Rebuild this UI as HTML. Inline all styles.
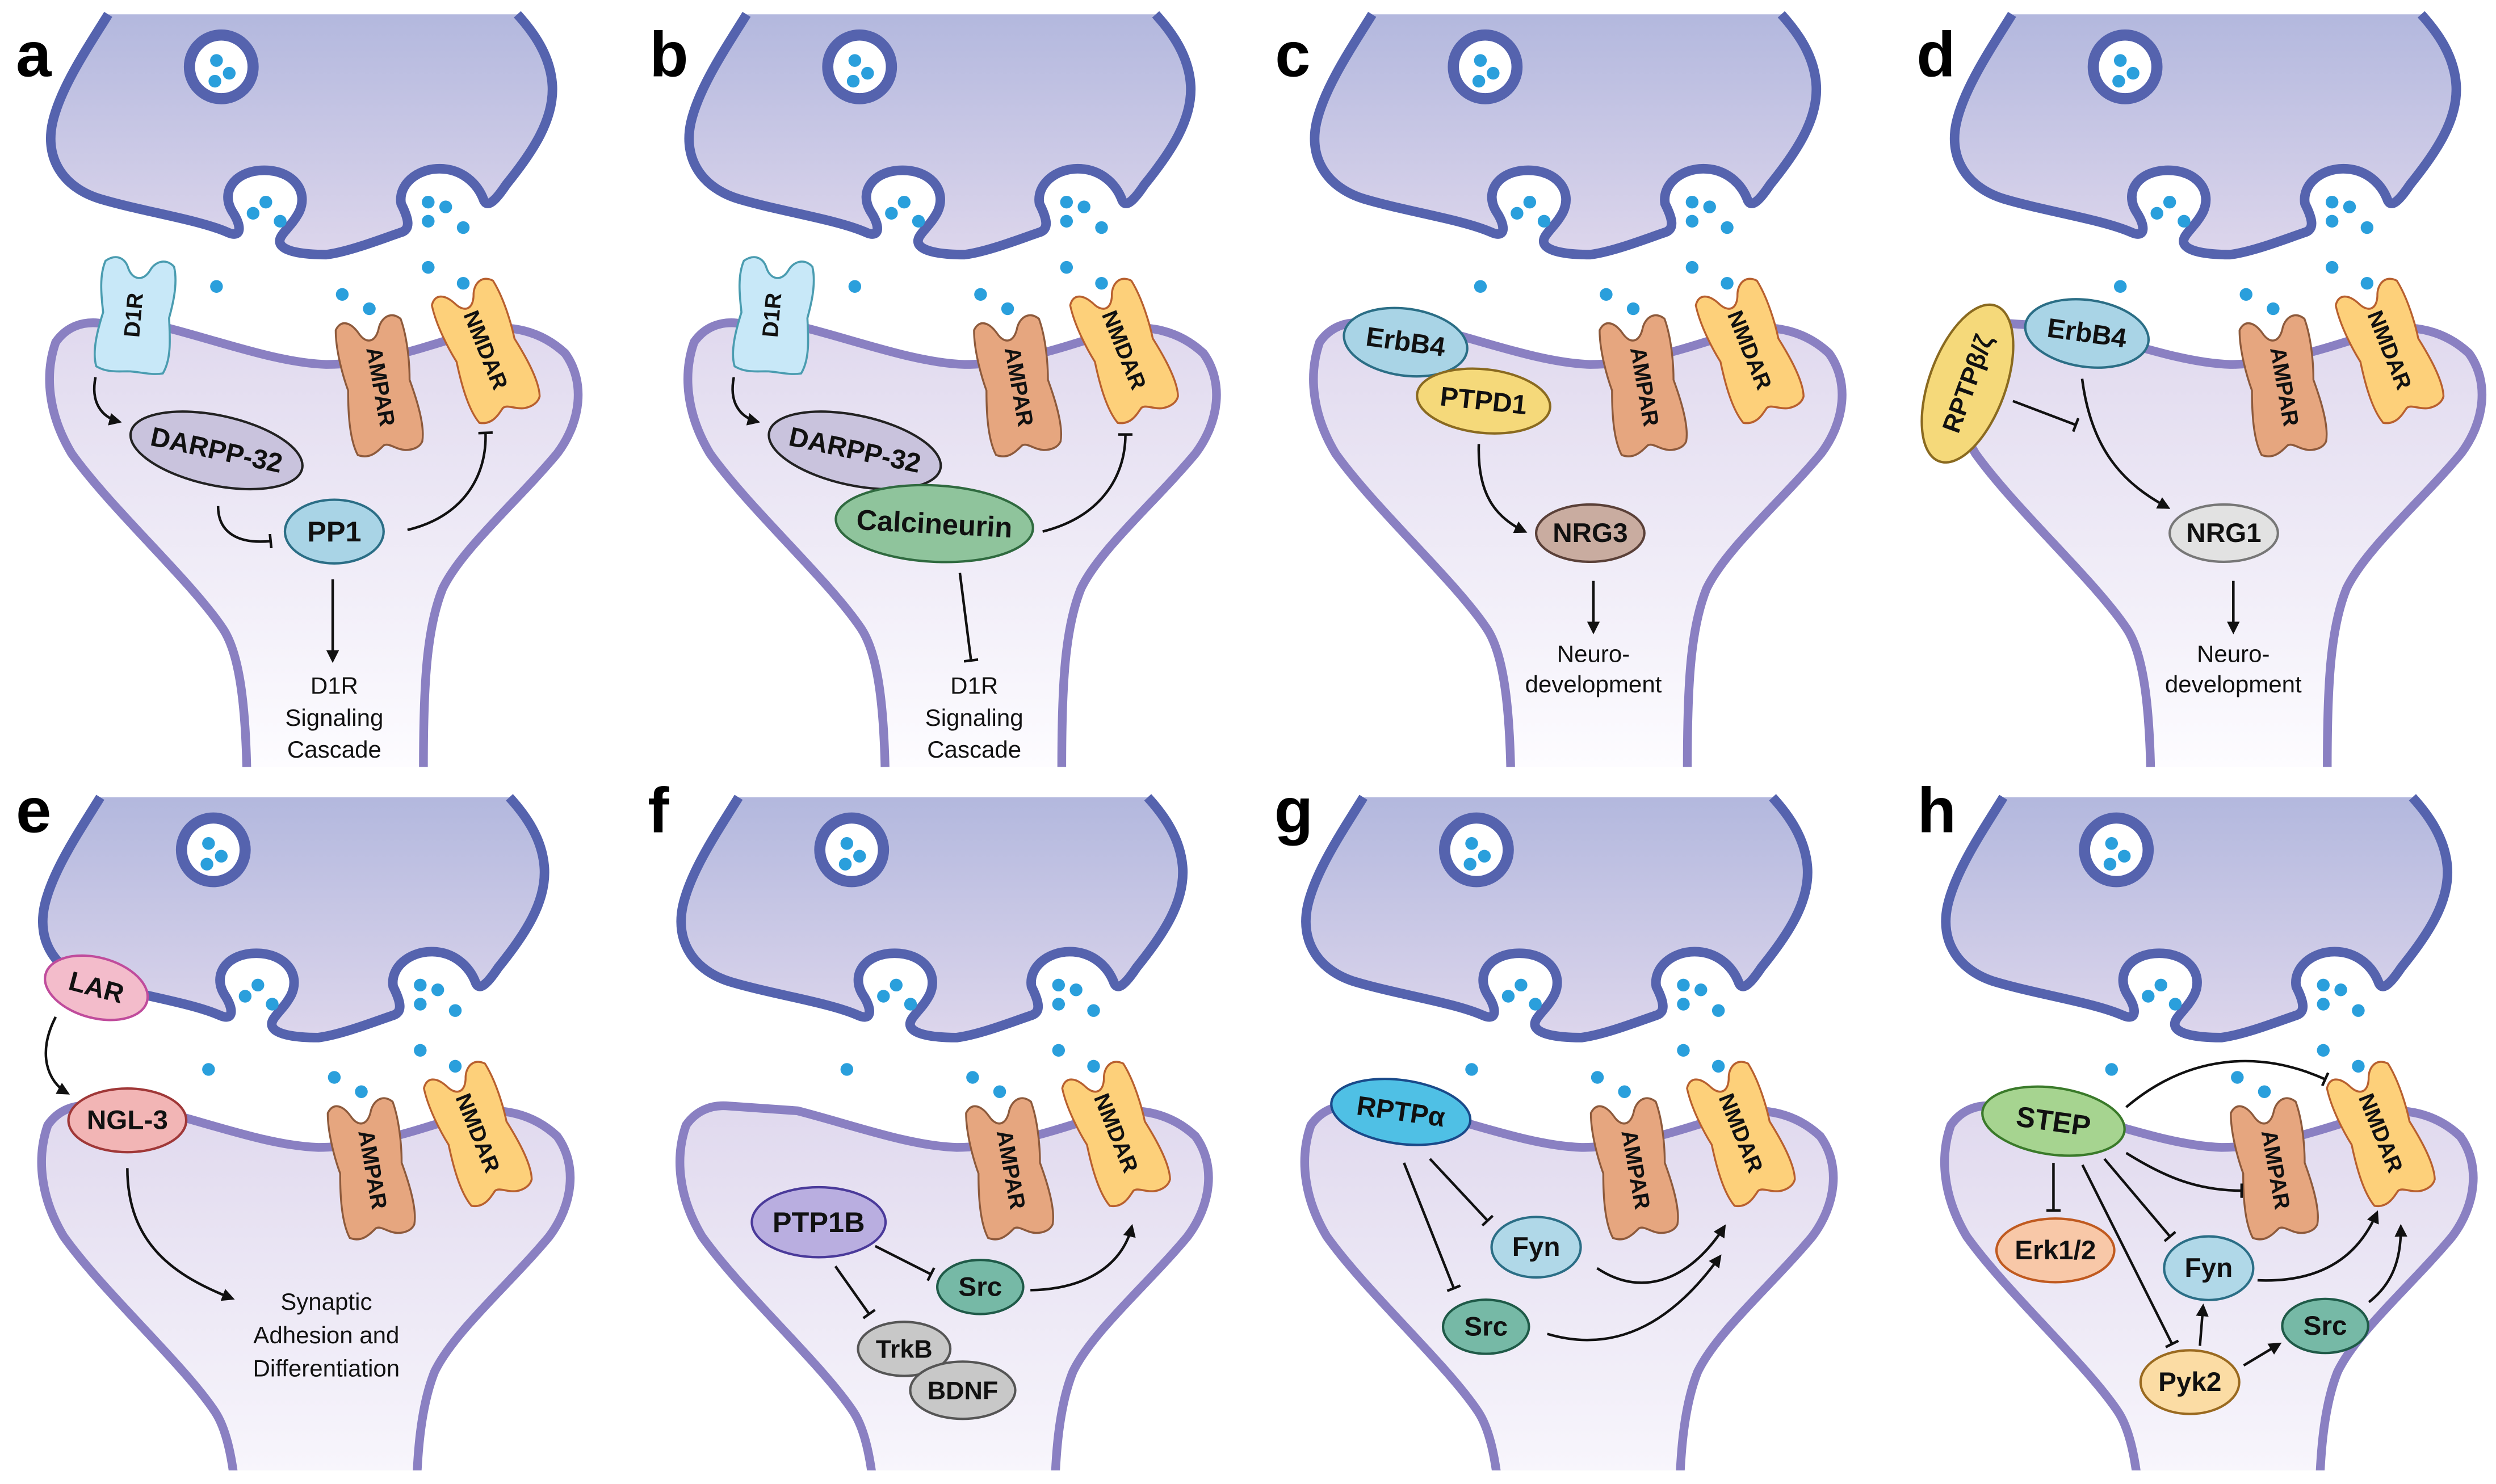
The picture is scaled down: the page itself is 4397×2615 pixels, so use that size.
<!DOCTYPE html>
<html><head><meta charset="utf-8"><style>
html,body{margin:0;padding:0;background:#fff;}
svg{display:block;}
text{font-family:"Liberation Sans",Arial,sans-serif;}
.n{font-weight:bold;text-anchor:middle;dominant-baseline:central;fill:#111;}
.r{font-weight:bold;font-size:14px;text-anchor:middle;dominant-baseline:central;fill:#111;}
.t{font-size:15px;text-anchor:middle;fill:#111;}
.L{font-weight:bold;font-size:40px;fill:#000;}
.a{fill:none;stroke:#111;stroke-width:1.6;}
</style></head><body>
<svg xmlns="http://www.w3.org/2000/svg" width="4397" height="2615" viewBox="0 0 1568 932.5">
<defs>
<linearGradient id="gp" x1="0" y1="0" x2="0" y2="1"><stop offset="0" stop-color="#b3b8de"/><stop offset="1" stop-color="#ddd6ec"/></linearGradient>
<linearGradient id="gd" x1="0" y1="0" x2="0" y2="1"><stop offset="0" stop-color="#e0d9ee"/><stop offset="1" stop-color="#fdfcff"/></linearGradient>
<marker id="ar" viewBox="0 0 10 10" refX="8" refY="5" markerWidth="8" markerHeight="8" markerUnits="userSpaceOnUse" orient="auto"><path d="M0,0 L10,5 L0,10 z" fill="#111"/></marker>
<marker id="tb" viewBox="0 0 10 10" refX="5" refY="5" markerWidth="9" markerHeight="9" markerUnits="userSpaceOnUse" orient="auto"><path d="M5,0 L5,10" stroke="#111" stroke-width="1.8"/></marker>
<g id="base">
<path d="M 68,9 C 55,30 38,55 33,77 C 28,100 40,118 63,125 C 90,133 125,138 143,146 C 152,150 152,142 146,133 C 138,120 148,107 166,107 C 184,107 194,120 188,133 C 183,143 174,148 176,153 C 178,158 190,160 205,160 C 220,158 240,150 252,146 C 258,144 257,138 252,128 C 250,116 262,106 276,106 C 290,106 300,115 304,126 C 306,130 310,128 318,116 C 335,95 348,75 347,54 C 346,35 335,20 325,9 Z" fill="url(#gp)"/>
<path d="M 68,9 C 55,30 38,55 33,77 C 28,100 40,118 63,125 C 90,133 125,138 143,146 C 152,150 152,142 146,133 C 138,120 148,107 166,107 C 184,107 194,120 188,133 C 183,143 174,148 176,153 C 178,158 190,160 205,160 C 220,158 240,150 252,146 C 258,144 257,138 252,128 C 250,116 262,106 276,106 C 290,106 300,115 304,126 C 306,130 310,128 318,116 C 335,95 348,75 347,54 C 346,35 335,20 325,9" fill="none" stroke="#5563ae" stroke-width="6" stroke-linejoin="round"/>
<circle cx="139" cy="42" r="20" fill="#fff" stroke="#5563ae" stroke-width="7"/>
<g fill="#2a9fdc">
<circle cx="136" cy="38" r="4"/><circle cx="135" cy="51" r="4"/><circle cx="144" cy="46" r="4"/>
<circle cx="159" cy="134" r="4"/><circle cx="167" cy="127" r="4"/><circle cx="176" cy="139" r="4"/>
<circle cx="269" cy="127" r="4"/><circle cx="280" cy="130" r="4"/><circle cx="269" cy="139" r="4"/><circle cx="291" cy="143" r="4"/>
<circle cx="136" cy="180" r="4"/><circle cx="215" cy="185" r="4"/><circle cx="232" cy="194" r="4"/><circle cx="269" cy="168" r="4"/><circle cx="291" cy="178" r="4"/>
</g>
<path d="M 155,482 C 154,440 150,410 140,395 C 120,365 70,320 45,285 C 30,260 28,235 35,215 C 42,205 52,202 62,203 L 105,206 C 140,215 175,228 205,229 C 240,229 275,215 300,208 C 320,203 340,208 355,222 C 368,240 365,265 350,285 C 325,315 290,345 278,370 C 268,395 266,430 266,482 Z" fill="url(#gd)"/>
<path d="M 155,482 C 154,440 150,410 140,395 C 120,365 70,320 45,285 C 30,260 28,235 35,215 C 42,205 52,202 62,203 L 105,206 C 140,215 175,228 205,229 C 240,229 275,215 300,208 C 320,203 340,208 355,222 C 368,240 365,265 350,285 C 325,315 290,345 278,370 C 268,395 266,430 266,482" fill="none" stroke="#8a80c2" stroke-width="5.5"/>
<path transform="translate(238,242) rotate(-10) scale(0.92,1)" fill="#e6a67f" stroke="#8d5a3c" stroke-width="1.3" d="M -22.5,-38.7 C -25,-25.8 -23,-8.6 -21.3,0 C -23.8,12.9 -26.3,30.1 -22.5,40.9 C -15,45.2 -8.8,40.9 -3.8,37.8 C 0,36.6 3.8,41.7 10,43 C 15,43.9 20,43 22.5,39.6 C 26.3,30.1 23.8,12.9 21.3,0 C 23,-8.6 25,-25.8 22.5,-38.7 C 16.3,-45.2 8.8,-40.9 6.3,-34.4 C 2.5,-26.7 -3.8,-26.7 -7.5,-34.4 C -11.3,-41.7 -17.5,-45.2 -22.5,-38.7 Z"/>
<path transform="translate(305,220) rotate(-22) scale(0.92,1)" fill="#fdd07a" stroke="#b8602f" stroke-width="1.3" d="M -22.5,-38.7 C -25,-25.8 -23,-8.6 -21.3,0 C -23.8,12.9 -26.3,30.1 -22.5,40.9 C -15,45.2 -8.8,40.9 -3.8,37.8 C 0,36.6 3.8,41.7 10,43 C 15,43.9 20,43 22.5,39.6 C 26.3,30.1 23.8,12.9 21.3,0 C 23,-8.6 25,-25.8 22.5,-38.7 C 16.3,-45.2 8.8,-40.9 6.3,-34.4 C 2.5,-26.7 -3.8,-26.7 -7.5,-34.4 C -11.3,-41.7 -17.5,-45.2 -22.5,-38.7 Z"/>
</g>
<g id="d1r"><path transform="translate(85,198) rotate(5)" fill="#c8e8f8" stroke="#4a9cb0" stroke-width="1.3" d="M -21.6,-32.4 C -25.2,-21.6 -21.6,-7.2 -20.3,0 C -22.7,10.8 -25.3,25.2 -21.6,34.2 C -13.8,37.8 -8.1,36 0,35.5 C 8,35.5 14,36.7 20.4,35 C 25.3,25.2 22.7,10.8 21.3,0 C 22.6,-7.2 25.2,-21.6 21.6,-32.4 C 15.8,-37.8 9.1,-34.2 6.8,-28.8 C 3.3,-21.6 -3.5,-21.6 -6.9,-28.8 C -9.2,-34.9 -15,-37.8 -21.6,-32.4 Z"/></g>
<clipPath id="clipb"><rect x="-20" y="0" width="420" height="432"/></clipPath>
</defs>

<!-- Panel a -->
<g transform="translate(0,0)">
<use href="#base"/><use href="#d1r"/>
<text class="r" transform="translate(84,198) rotate(-85)" font-size="14">D1R</text>
<text class="r" transform="translate(239,243) rotate(80)">AMPAR</text>
<text class="r" transform="translate(305,220) rotate(68)">NMDAR</text>
<path class="a" d="M 60,237 C 57,252 63,262 75,265" marker-end="url(#ar)"/>
<g transform="translate(136,283) rotate(12)"><ellipse rx="55" ry="22" fill="#c9c3dd" stroke="#222" stroke-width="1.5"/><text class="n" font-size="17">DARPP-32</text></g>
<path class="a" d="M 137,318 C 137,335 150,342 170,340" marker-end="url(#tb)"/>
<g transform="translate(210,334)"><ellipse rx="31" ry="20" fill="#a9d4e6" stroke="#2b6e86" stroke-width="1.5"/><text class="n" font-size="18">PP1</text></g>
<path class="a" d="M 256,333 C 290,325 306,300 305,272" marker-end="url(#tb)"/>
<path class="a" d="M 209,364 L 209,415" marker-end="url(#ar)"/>
<text class="t" x="210" y="436">D1R</text><text class="t" x="210" y="456">Signaling</text><text class="t" x="210" y="476">Cascade</text>
<text class="L" x="10" y="48">a</text>
</g>

<!-- Panel b -->
<g transform="translate(401,0)">
<use href="#base"/><use href="#d1r"/>
<text class="r" transform="translate(84,198) rotate(-85)" font-size="14">D1R</text>
<text class="r" transform="translate(239,243) rotate(80)">AMPAR</text>
<text class="r" transform="translate(305,220) rotate(68)">NMDAR</text>
<path class="a" d="M 60,237 C 57,252 63,262 75,265" marker-end="url(#ar)"/>
<g transform="translate(136,283) rotate(12)"><ellipse rx="55" ry="22" fill="#c9c3dd" stroke="#222" stroke-width="1.5"/><text class="n" font-size="17">DARPP-32</text></g>
<g transform="translate(186,329) rotate(3)"><ellipse rx="62" ry="24" fill="#8fc49c" stroke="#2f6a3f" stroke-width="1.5"/><text class="n" font-size="18">Calcineurin</text></g>
<path class="a" d="M 254,334 C 290,325 306,300 306,273" marker-end="url(#tb)"/>
<path class="a" d="M 202,360 L 209,415" marker-end="url(#tb)"/>
<text class="t" x="211" y="436">D1R</text><text class="t" x="211" y="456">Signaling</text><text class="t" x="211" y="476">Cascade</text>
<text class="L" x="7" y="48">b</text>
</g>

<!-- Panel c -->
<g transform="translate(794,0)">
<use href="#base"/>
<text class="r" transform="translate(239,243) rotate(80)">AMPAR</text>
<text class="r" transform="translate(305,220) rotate(68)">NMDAR</text>
<g transform="translate(89,215) rotate(8)"><ellipse rx="39" ry="21" fill="#a9d4e6" stroke="#2b6e86" stroke-width="1.5"/><text class="n" font-size="17">ErbB4</text></g>
<g transform="translate(138,252) rotate(6)"><ellipse rx="42" ry="20" fill="#f5d97a" stroke="#8a6a20" stroke-width="1.5"/><text class="n" font-size="17">PTPD1</text></g>
<path class="a" d="M 135,279 C 134,310 145,325 164,334" marker-end="url(#ar)"/>
<g transform="translate(205,335)"><ellipse rx="34" ry="18" fill="#c9aca0" stroke="#5a4038" stroke-width="1.5"/><text class="n" font-size="17">NRG3</text></g>
<path class="a" d="M 207,365 L 207,397" marker-end="url(#ar)"/>
<text class="t" x="207" y="416">Neuro-</text><text class="t" x="207" y="435">development</text>
<text class="L" x="7" y="48">c</text>
</g>

<!-- Panel d -->
<g transform="translate(1196,0)">
<use href="#base"/>
<text class="r" transform="translate(239,243) rotate(80)">AMPAR</text>
<text class="r" transform="translate(305,220) rotate(68)">NMDAR</text>
<g transform="translate(40,241) rotate(20)"><ellipse rx="24" ry="52" fill="#f5d97a" stroke="#8a6a20" stroke-width="1.5"/></g>
<text class="n" font-size="16" transform="translate(40,241) rotate(-70)">RPTPβ/ζ</text>
<g transform="translate(115,209.5) rotate(8)"><ellipse rx="39" ry="21" fill="#a9d4e6" stroke="#2b6e86" stroke-width="1.5"/><text class="n" font-size="17">ErbB4</text></g>
<path class="a" d="M 68.5,252 L 108,267" marker-end="url(#tb)"/>
<path class="a" d="M 112,238 C 118,285 140,305 166,319" marker-end="url(#ar)"/>
<g transform="translate(201,335)"><ellipse rx="34" ry="18" fill="#e2e2e2" stroke="#777" stroke-width="1.5"/><text class="n" font-size="17">NRG1</text></g>
<path class="a" d="M 207,365 L 207,397" marker-end="url(#ar)"/>
<text class="t" x="207" y="416">Neuro-</text><text class="t" x="207" y="435">development</text>
<text class="L" x="8" y="48">d</text>
</g>

<!-- Panel e -->
<g transform="translate(-5,492)">
<g clip-path="url(#clipb)"><use href="#base"/></g>
<text class="r" transform="translate(239,243) rotate(80)">AMPAR</text>
<text class="r" transform="translate(305,220) rotate(68)">NMDAR</text>
<g transform="translate(65.5,128.7) rotate(15)"><ellipse rx="33" ry="19" fill="#f3bccb" stroke="#c04c9c" stroke-width="1.5"/><text class="n" font-size="17">LAR</text></g>
<path class="a" d="M 40,147 C 28,170 35,188 47.5,195" marker-end="url(#ar)"/>
<g transform="translate(85,212)"><ellipse rx="37" ry="20" fill="#f2b5b5" stroke="#a03838" stroke-width="1.5"/><text class="n" font-size="17">NGL-3</text></g>
<path class="a" d="M 85,242 C 85,290 115,310 151,324" marker-end="url(#ar)"/>
<text class="t" x="210" y="331">Synaptic</text><text class="t" x="210" y="352">Adhesion and</text><text class="t" x="210" y="373">Differentiation</text>
<text class="L" x="15" y="31">e</text>
</g>

<!-- Panel f -->
<g transform="translate(396,492)">
<g clip-path="url(#clipb)"><use href="#base"/></g>
<text class="r" transform="translate(239,243) rotate(80)">AMPAR</text>
<text class="r" transform="translate(305,220) rotate(68)">NMDAR</text>
<g transform="translate(118.3,276)"><ellipse rx="42" ry="22" fill="#b9aee0" stroke="#4a3a9a" stroke-width="1.5"/><text class="n" font-size="18">PTP1B</text></g>
<path class="a" d="M 153.8,291 L 188.8,308.7" marker-end="url(#tb)"/>
<path class="a" d="M 128.8,303.7 L 150,333.7" marker-end="url(#tb)"/>
<g transform="translate(219.8,316.7)"><ellipse rx="27" ry="17" fill="#76b9a6" stroke="#1f5a48" stroke-width="1.5"/><text class="n" font-size="17">Src</text></g>
<path class="a" d="M 251.3,318.7 C 290,318 310,300 315,278.7" marker-end="url(#ar)"/>
<g transform="translate(172,355.6)"><ellipse rx="29" ry="17" fill="#c8c8c8" stroke="#555" stroke-width="1.5"/><text class="n" font-size="16">TrkB</text></g>
<g transform="translate(208.8,381.6)"><ellipse rx="33" ry="18" fill="#c8c8c8" stroke="#555" stroke-width="1.5"/><text class="n" font-size="16">BDNF</text></g>
<text class="L" x="11" y="31">f</text>
</g>

<!-- Panel g -->
<g transform="translate(788.5,492)">
<g clip-path="url(#clipb)"><use href="#base"/></g>
<text class="r" transform="translate(239,243) rotate(80)">AMPAR</text>
<text class="r" transform="translate(305,220) rotate(68)">NMDAR</text>
<g transform="translate(91.5,206.7) rotate(8)"><ellipse rx="44" ry="20" fill="#4fc0e5" stroke="#1a4a8a" stroke-width="1.5"/><text class="n" font-size="17">RPTPα</text></g>
<path class="a" d="M 109.8,236.2 L 146,275" marker-end="url(#tb)"/>
<path class="a" d="M 93.5,238.7 L 124.8,317.5" marker-end="url(#tb)"/>
<g transform="translate(176.5,291.7)"><ellipse rx="28" ry="19" fill="#b0d8e8" stroke="#2b6e86" stroke-width="1.5"/><text class="n" font-size="17">Fyn</text></g>
<g transform="translate(145,341.7)"><ellipse rx="27" ry="17" fill="#76b9a6" stroke="#1f5a48" stroke-width="1.5"/><text class="n" font-size="17">Src</text></g>
<path class="a" d="M 214.8,304.9 C 245,325 275,310 294.8,278.7" marker-end="url(#ar)"/>
<path class="a" d="M 183.5,346.2 C 230,360 265,335 292,297.5" marker-end="url(#ar)"/>
<text class="L" x="12" y="31">g</text>
</g>

<!-- Panel h -->
<g transform="translate(1190.5,492)">
<g clip-path="url(#clipb)"><use href="#base"/></g>
<text class="r" transform="translate(239,243) rotate(80)">AMPAR</text>
<text class="r" transform="translate(305,220) rotate(68)">NMDAR</text>
<path class="a" d="M 145.2,203.7 C 185,170 230,168 270.2,186.2" marker-end="url(#tb)"/>
<path class="a" d="M 145.2,232.5 C 170,248 190,256 217.7,256.2" marker-end="url(#tb)"/>
<path class="a" d="M 99.5,238.7 L 99.5,268.7" marker-end="url(#tb)"/>
<path class="a" d="M 131.5,236.2 L 172.7,285" marker-end="url(#tb)"/>
<path class="a" d="M 117.7,240 L 174,352.5" marker-end="url(#tb)"/>
<g transform="translate(99.5,212.5) rotate(8)"><ellipse rx="45" ry="21" fill="#a6d490" stroke="#3a7a2a" stroke-width="1.5"/><text class="n" font-size="18">STEP</text></g>
<g transform="translate(100.7,293.7)"><ellipse rx="37" ry="20" fill="#f8c8a8" stroke="#c05a20" stroke-width="1.5"/><text class="n" font-size="17">Erk1/2</text></g>
<g transform="translate(197,304.9)"><ellipse rx="28" ry="20" fill="#b0d8e8" stroke="#2b6e86" stroke-width="1.5"/><text class="n" font-size="17">Fyn</text></g>
<g transform="translate(185.2,376.5)"><ellipse rx="31" ry="20" fill="#fbdca4" stroke="#9a6a20" stroke-width="1.5"/><text class="n" font-size="17">Pyk2</text></g>
<g transform="translate(270.2,341.2)"><ellipse rx="27" ry="17" fill="#76b9a6" stroke="#1f5a48" stroke-width="1.5"/><text class="n" font-size="17">Src</text></g>
<path class="a" d="M 191.5,353.7 L 193.5,328.7" marker-end="url(#ar)"/>
<path class="a" d="M 219,366 L 241.5,352.5" marker-end="url(#ar)"/>
<path class="a" d="M 227.7,312.5 C 265,314 290,300 302.7,270" marker-end="url(#ar)"/>
<path class="a" d="M 297.7,326.2 C 312,315 318,300 317.7,278.7" marker-end="url(#ar)"/>
<text class="L" x="14" y="31">h</text>
</g>
</svg>
</body></html>
